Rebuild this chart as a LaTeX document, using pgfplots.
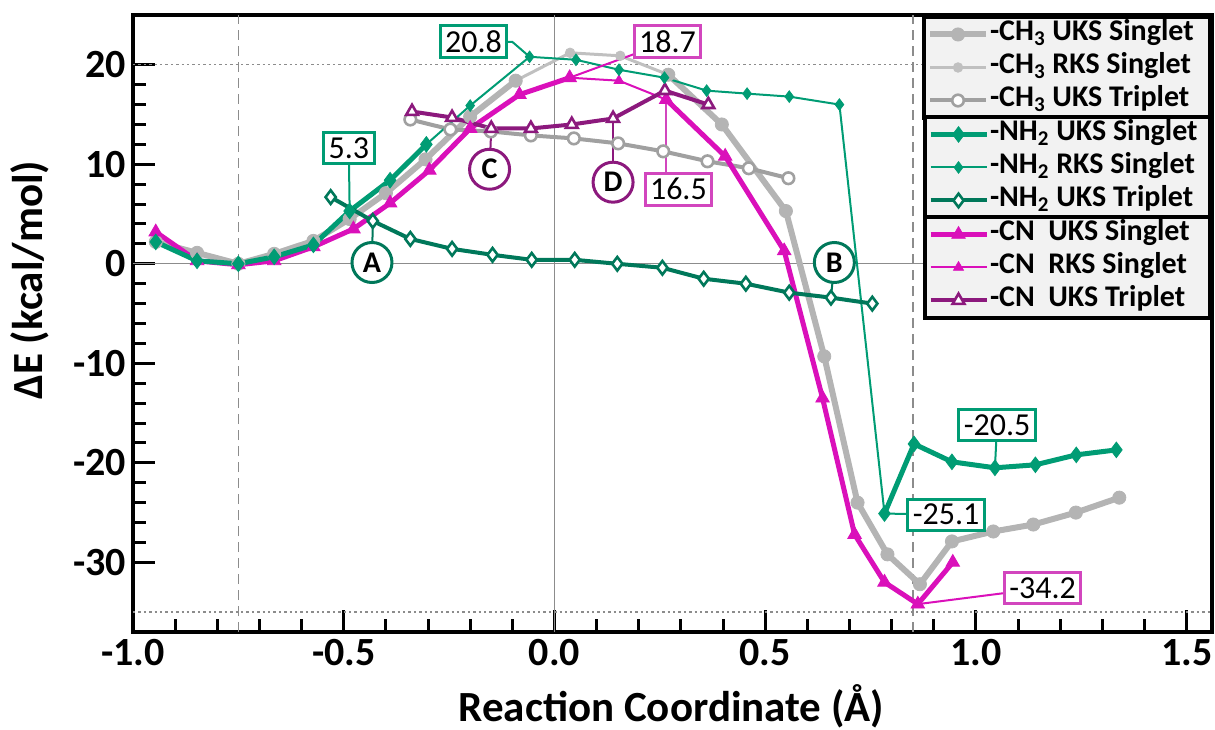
\documentclass[border=0pt]{standalone}
\usepackage{fontspec}
\setmainfont{Carlito}
\usepackage{pgfplots}
\pgfplotsset{compat=1.18}

\definecolor{ch3a}{RGB}{180,180,180}
\definecolor{ch3b}{RGB}{192,192,192}
\definecolor{ch3t}{RGB}{160,160,160}
\definecolor{nh2}{RGB}{0,156,116}
\definecolor{nh2t}{RGB}{0,120,90}
\definecolor{cn}{RGB}{218,16,186}
\definecolor{cnt}{RGB}{140,25,125}
\definecolor{cnbox}{RGB}{210,70,190}

\pgfplotsset{
  ch3uks/.style={color=ch3a, line width=3pt, mark=*, mark size=3.3pt, mark options={solid, line width=0.4pt}},
  ch3rks/.style={color=ch3b, line width=1.5pt, mark=*, mark size=2.4pt, mark options={solid, line width=0.4pt}},
  ch3trip/.style={color=ch3t, line width=2pt, mark=*, mark size=2.9pt, mark options={solid, fill=white, line width=1.3pt}},
  nh2uks/.style={color=nh2, line width=2.5pt, mark=diamond*, mark size=3.9pt, mark options={solid, line width=0.4pt}},
  nh2rks/.style={color=nh2, line width=1pt, mark=diamond*, mark size=2.9pt, mark options={solid, line width=0.4pt}},
  nh2trip/.style={color=nh2t, line width=2pt, mark=diamond*, mark size=3.4pt, mark options={solid, fill=white, line width=1.3pt}},
  cnuks/.style={color=cn, line width=2.5pt, mark=triangle*, mark size=3.9pt, mark options={solid, line width=0.4pt}},
  cnrks/.style={color=cn, line width=1pt, mark=triangle*, mark size=2.9pt, mark options={solid, line width=0.4pt}},
  cntrip/.style={color=cnt, line width=2pt, mark=triangle*, mark size=3.4pt, mark options={solid, fill=white, line width=1.3pt}},
  legbox/.style={
    hide axis, at={(0,0)}, anchor=south west, scale only axis,
    width=539.5pt, height=308.5pt, xmin=0, xmax=1, ymin=0, ymax=1,
    legend image code/.code={\draw[mark repeat=2,mark phase=2,##1] plot coordinates {(0pt,0pt) (14pt,0pt) (28pt,0pt)};},
    legend cell align=left,
    legend style={draw=black, line width=2pt, fill=black!5, inner sep=1.5pt,
      row sep=2pt, anchor=north east,
      font=\fontsize{15}{16}\selectfont\bfseries,
      nodes={inner sep=0.5pt, text height=10pt, text depth=3.5pt}},
  },
}

\newcommand{\ent}[1]{\makebox[108pt][l]{#1}}

\begin{document}
\begin{tikzpicture}
\useasboundingbox (-66.5pt,-48.5pt) rectangle (541pt,316pt);
\begin{axis}[
  at={(0,0)}, anchor=south west,
  scale only axis, width=539.5pt, height=308.5pt,
  xmin=-1.0, xmax=1.56, ymin=-37, ymax=25,
  clip=false,
  xtick={-1,-0.5,0,0.5,1,1.5},
  ytick={-30,-20,-10,0,10,20},
  minor x tick num=4, minor y tick num=4,
  xtick pos=left, ytick pos=left,
  tick align=inside,
  major tick length=11pt, minor tick length=6.5pt,
  tick style={black, line width=1.5pt},
  axis line style={line width=2pt},
  /pgf/number format/assume math mode=true,
  xticklabel style={/pgf/number format/.cd, fixed, fixed zerofill, precision=1},
  ticklabel style={font=\fontsize{20}{22}\selectfont\bfseries},
  xlabel={Reaction Coordinate (Å)},
  ylabel={ΔE (kcal/mol)},
  label style={font=\fontsize{21.5}{24}\selectfont\bfseries},
  xlabel style={at={(axis description cs:0.499,-0.12)}, anchor=center},
  ylabel style={at={(axis description cs:-0.0955,0.57)}, anchor=center},
]
% reference lines
\draw[black!45, line width=0.7pt] (axis cs:0,-37) -- (axis cs:0,25);
\draw[black!45, line width=0.7pt] (axis cs:-1,0) -- (axis cs:1.56,0);
\draw[black!45, line width=0.8pt, dash pattern=on 5pt off 3pt] (axis cs:-0.75,-37) -- (axis cs:-0.75,25);
\draw[black!45, line width=0.8pt, dash pattern=on 5pt off 3pt] (axis cs:0.85,-37) -- (axis cs:0.85,25);
\draw[black!45, line width=0.7pt, dash pattern=on 1.2pt off 1.5pt] (axis cs:-1,20) -- (axis cs:1.56,20);
\draw[black!45, line width=0.7pt, dash pattern=on 1.2pt off 1.5pt] (axis cs:-1,-35) -- (axis cs:1.56,-35);

% -CH3
\addplot[ch3rks] coordinates {(-0.20,14.8) (-0.092,18.4) (0.037,21.2) (0.156,20.9) (0.270,19.0) (0.397,14.0)};
\addplot[ch3uks] coordinates {(-0.946,2.2) (-0.848,1.1) (-0.750,0.0) (-0.665,1.0) (-0.572,2.3) (-0.486,4.5) (-0.400,7.1) (-0.306,10.5) (-0.200,14.8) (-0.092,18.4)};
\addplot[ch3uks] coordinates {(0.270,19.0) (0.397,14.0) (0.549,5.3) (0.640,-9.3) (0.719,-24.0) (0.790,-29.2) (0.867,-32.2) (0.943,-27.9) (1.041,-26.9) (1.136,-26.2) (1.237,-25.0) (1.340,-23.5)};
\addplot[ch3trip] coordinates {(-0.342,14.5) (-0.247,13.5) (-0.151,13.3) (-0.056,12.9) (0.046,12.6) (0.151,12.1) (0.258,11.3) (0.363,10.3) (0.461,9.6) (0.555,8.6)};

% -CN
\addplot[cnrks] coordinates {(-0.083,17.0) (0.036,18.7) (0.153,18.4) (0.265,16.5)};
\addplot[cnuks] coordinates {(-0.946,3.2) (-0.848,0.3) (-0.750,-0.1) (-0.665,0.3) (-0.572,1.7) (-0.477,3.5) (-0.390,6.1) (-0.297,9.4) (-0.200,13.6) (-0.083,17.0) (0.036,18.7)};
\addplot[cnuks] coordinates {(0.265,16.5) (0.405,10.8) (0.545,1.3) (0.636,-13.5) (0.712,-27.2) (0.783,-32.0) (0.862,-34.2) (0.945,-30.0)};
\addplot[cntrip] coordinates {(-0.338,15.3) (-0.243,14.7) (-0.150,13.6) (-0.056,13.6) (0.041,14.0) (0.139,14.6) (0.262,17.4) (0.365,16.0)};

% -NH2
\addplot[nh2rks] coordinates {(-0.304,12.0) (-0.200,15.9) (-0.059,20.8) (0.051,20.5) (0.153,19.5) (0.261,18.7) (0.361,17.4) (0.457,17.1) (0.557,16.8) (0.676,16.0) (0.783,-25.1)};
\addplot[nh2uks] coordinates {(-0.946,2.2) (-0.848,0.3) (-0.750,0.0) (-0.665,0.7) (-0.572,1.9) (-0.486,5.3) (-0.390,8.4) (-0.304,12.0)};
\addplot[nh2uks] coordinates {(0.783,-25.1) (0.853,-18.1) (0.943,-19.9) (1.045,-20.5) (1.141,-20.2) (1.238,-19.2) (1.333,-18.7)};
\addplot[nh2trip] coordinates {(-0.531,6.7) (-0.431,4.3) (-0.342,2.5) (-0.243,1.5) (-0.147,0.9) (-0.054,0.4) (0.048,0.4) (0.149,0.0) (0.256,-0.4) (0.354,-1.5) (0.454,-2.0) (0.557,-2.9) (0.656,-3.4) (0.754,-4.0)};

% call-outs
\tikzset{
  lbl/.style={draw=#1, line width=1.5pt, fill=white, inner sep=2.5pt, font=\fontsize{16}{17}\selectfont},
  circ/.style={circle, draw=#1, line width=1.5pt, fill=white, inner sep=0pt, minimum size=20pt, font=\fontsize{15}{16}\selectfont\bfseries},
}
\draw[nh2, line width=1pt] (axis cs:-0.486,5.3) -- (axis cs:-0.488,11.6);
\node[lbl=nh2] at (axis cs:-0.488,11.6) {5.3};
\draw[nh2, line width=1pt] (axis cs:-0.059,20.8) -- (axis cs:-0.10,22.3) -- (axis cs:-0.192,22.3);
\node[lbl=nh2] at (axis cs:-0.192,22.3) {20.8};
\draw[cn, line width=1pt] (axis cs:0.036,18.7) -- (axis cs:0.268,22.3);
\node[lbl=cnbox] at (axis cs:0.268,22.3) {18.7};
\draw[cnbox, line width=1pt] (axis cs:0.265,16.5) -- (axis cs:0.265,7.5);
\node[lbl=cnbox] at (axis cs:0.294,7.5) {16.5};
\draw[nh2, line width=1pt] (axis cs:0.783,-25.1) -- (axis cs:0.929,-25.2);
\node[lbl=nh2] at (axis cs:0.929,-25.2) {-25.1};
\draw[nh2, line width=1pt] (axis cs:1.045,-20.5) -- (axis cs:1.05,-16.2);
\node[lbl=nh2] at (axis cs:1.05,-16.2) {-20.5};
\draw[cn, line width=1pt] (axis cs:0.862,-34.2) -- (axis cs:1.158,-32.6);
\node[lbl=cnbox] at (axis cs:1.158,-32.6) {-34.2};
\draw[nh2t, line width=1pt] (axis cs:-0.431,4.3) -- (axis cs:-0.433,0.13);
\node[circ=nh2t] at (axis cs:-0.433,0.13) {A};
\draw[nh2t, line width=1pt] (axis cs:0.656,-3.4) -- (axis cs:0.664,0.13);
\node[circ=nh2t] at (axis cs:0.664,0.13) {B};
\draw[cnt, line width=1pt] (axis cs:-0.150,13.6) -- (axis cs:-0.154,9.5);
\node[circ=cnt] at (axis cs:-0.154,9.5) {C};
\draw[cnt, line width=1pt] (axis cs:0.139,14.6) -- (axis cs:0.139,8.2);
\node[circ=cnt] at (axis cs:0.139,8.2) {D};
\end{axis}

% legend, three boxes
\begin{axis}[legbox, legend style={at={(1,1)}}]
\addlegendimage{ch3uks}
\addlegendentry{\ent{-CH\textsubscript{3} UKS Singlet}}
\addlegendimage{ch3rks}
\addlegendentry{\ent{-CH\textsubscript{3} RKS Singlet}}
\addlegendimage{ch3trip}
\addlegendentry{\ent{-CH\textsubscript{3} UKS Triplet}}
\end{axis}
\begin{axis}[legbox, legend style={at={(1,0.838)}}]
\addlegendimage{nh2uks}
\addlegendentry{\ent{-NH\textsubscript{2} UKS Singlet}}
\addlegendimage{nh2rks}
\addlegendentry{\ent{-NH\textsubscript{2} RKS Singlet}}
\addlegendimage{nh2trip}
\addlegendentry{\ent{-NH\textsubscript{2} UKS Triplet}}
\end{axis}
\begin{axis}[legbox, legend style={at={(1,0.676)}}]
\addlegendimage{cnuks}
\addlegendentry{\ent{-CN~~UKS Singlet}}
\addlegendimage{cnrks}
\addlegendentry{\ent{-CN~~RKS Singlet}}
\addlegendimage{cntrip}
\addlegendentry{\ent{-CN~~UKS Triplet}}
\end{axis}
\end{tikzpicture}
\end{document}
